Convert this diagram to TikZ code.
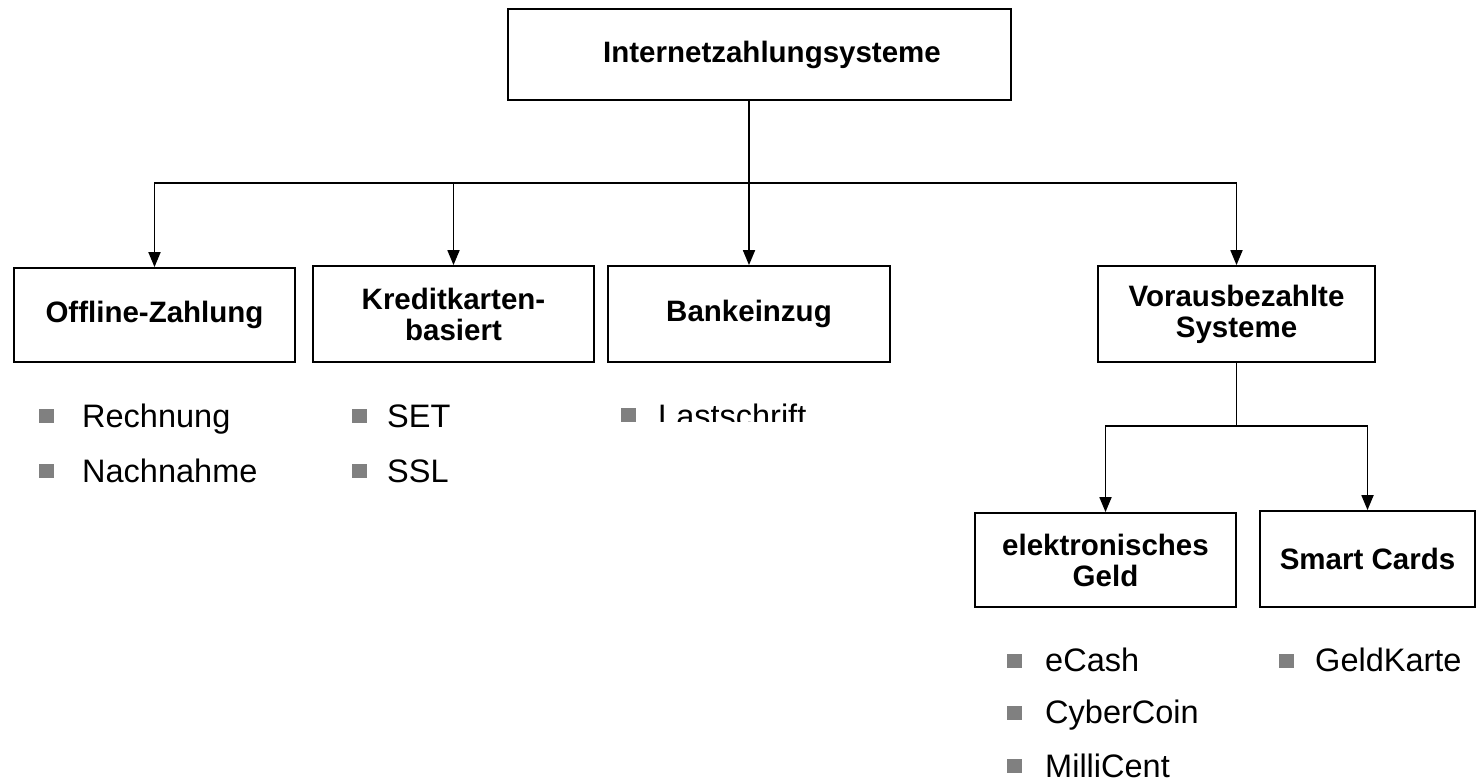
\documentclass[tikz,border=0pt]{standalone}
\usepackage{fontspec}
\setmainfont{Liberation Sans}
\usetikzlibrary{arrows.meta}
\definecolor{bulgray}{HTML}{808080}
\begin{document}
\begin{tikzpicture}[x=1pt,y=-1pt,
  box/.style={draw, line width=1.8pt, inner sep=0pt, align=center,
    font=\fontsize{29.5}{31}\selectfont\bfseries},
  arr/.style={line width=1.8pt, -{Triangle[width=12pt,length=15pt]}},
  conn/.style={line width=1.8pt},
  bul/.style={fill=bulgray, inner sep=0pt, minimum width=15pt, minimum height=14pt},
  item/.style={anchor=base west, inner sep=0pt, font=\fontsize{32.5}{36}\selectfont}]
\useasboundingbox (0,0) rectangle (1477,781);
% boxes
\node[box, minimum width=503pt, minimum height=91pt] (top) at (759.5,54.5) {\hspace*{25pt}Internetzahlungsysteme};
\node[box, minimum width=281pt, minimum height=94pt] (off) at (154.5,315) {Offline-Zahlung};
\node[box, minimum width=281pt, minimum height=96pt] (kre) at (453.5,314) {Kreditkarten-\\basiert};
\node[box, minimum width=282pt, minimum height=96pt] (ban) at (749,314) {Bankeinzug};
\node[box, minimum width=277pt, minimum height=96pt] (vor) at (1236.5,314) {Vorausbezahlte\\Systeme};
\node[box, minimum width=261pt, minimum height=94pt] (eg) at (1105.5,560) {elektronisches\\Geld};
\node[box, minimum width=215pt, minimum height=96pt] (sc) at (1367.5,559) {Smart Cards};
% connectors
\coordinate (bus) at (749,183);
\draw[conn] (top.south -| bus) -- (bus);
\draw[arr] (bus) -| (off.north);
\draw[arr] (bus) -| (kre.north);
\draw[arr] (bus) -- (ban.north);
\draw[arr] (bus) -| (vor.north);
\coordinate (bus2) at (1236.5,426);
\draw[conn] (vor.south) -- (bus2);
\draw[arr] (bus2) -| (eg.north);
\draw[arr] (bus2) -| (sc.north);
% bullet items
\node[bul] (b1) at (46,416) {};
\node[item] (t1) at (82,427) {Rechnung};
\node[bul] (b2) at (46,471) {};
\node[item] (t2) at (82,482) {Nachnahme};
\node[bul] (b3) at (359,416) {};
\node[item] (t3) at (387,427) {SET};
\node[bul] (b4) at (359,471) {};
\node[item] (t4) at (387,482) {SSL};
\node[bul] (b5) at (628,415) {};
\begin{scope}
\clip (640,380) rectangle (900,421);
\node[item] (t5) at (658,427) {Lastschrift};
\end{scope}
\node[bul] (b6) at (1014,661) {};
\node[item] (t6) at (1045,671) {eCash};
\node[bul] (b7) at (1014,713) {};
\node[item] (t7) at (1045,723) {CyberCoin};
\node[bul] (b8) at (1014,766) {};
\node[item] (t8) at (1045,777) {MilliCent};
\node[bul] (b9) at (1286,661) {};
\node[item] (t9) at (1315,671) {GeldKarte};
\end{tikzpicture}
\end{document}
